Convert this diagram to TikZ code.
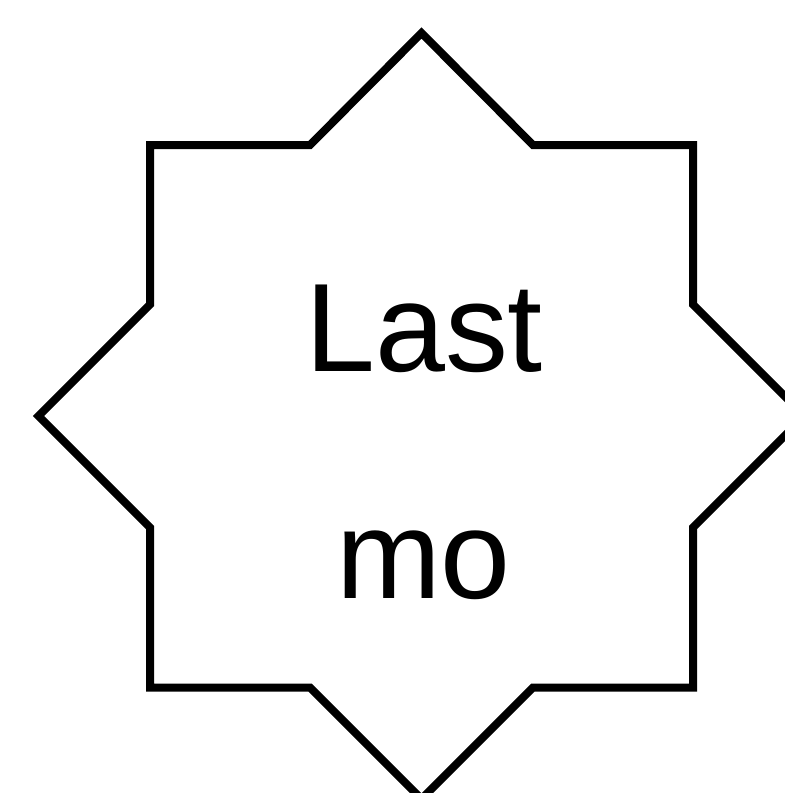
\documentclass[tikz,border=0pt]{standalone}
\usepackage{fontspec}
\setmainfont{Liberation Sans}
\usetikzlibrary{positioning}
\tikzset{
  starline/.style={draw=black,line width=4pt,line join=miter},
  bigword/.style={font=\fontsize{62.9}{75}\selectfont,inner sep=0pt,anchor=base}
}

\begin{document}
\begin{tikzpicture}[x=0.5pt,y=-0.5pt]
  \useasboundingbox (0,0) rectangle (784,793);
  % Eight-pointed star outline
  \draw[starline] (421.5,33) -- (533,145) -- (693,145) -- (693,304.5)
    -- (804.5,416) -- (693,527.5) -- (693,687.5) -- (533,687.5)
    -- (421.5,799) -- (310,687.5) -- (150,687.5) -- (150,527.5)
    -- (38.5,416) -- (150,304.5) -- (150,145) -- (310,145) -- cycle;
  % Label
  \node[bigword] (lastword) at (424,371) {Last};
  \node[bigword] (moword) at (423.5,598) {mo};
\end{tikzpicture}
\end{document}
